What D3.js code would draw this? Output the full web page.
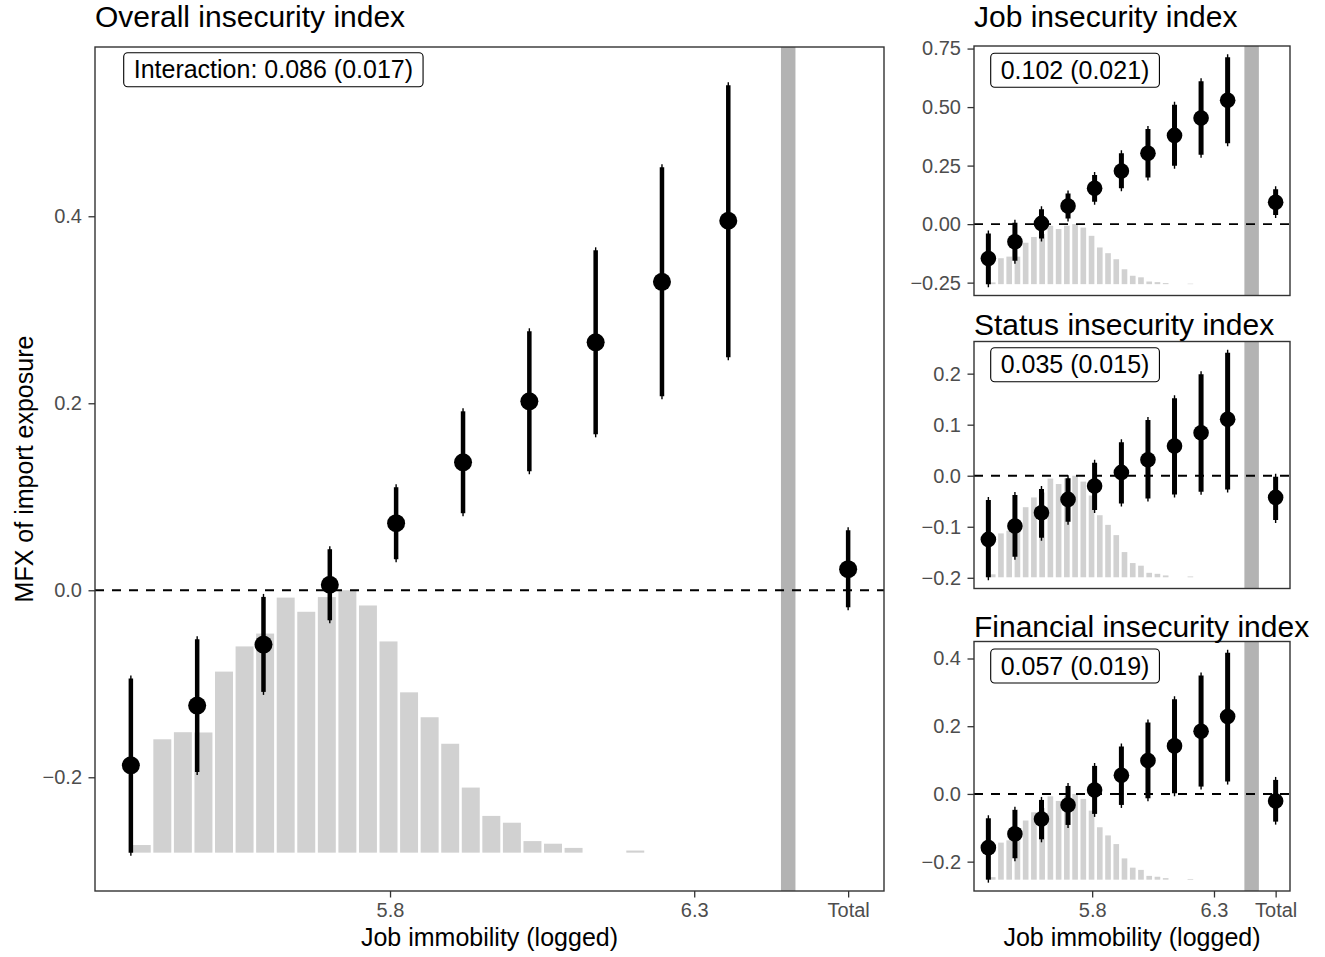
<!DOCTYPE html>
<html>
<head>
<meta charset="utf-8">
<script src="https://cdn.jsdelivr.net/npm/d3@7"></script>
<style>
  body { margin: 0; background: #fff; }
  svg { display: block; font-family: "Liberation Sans", Arial, Helvetica, sans-serif; }
</style>
</head>
<body>
<svg id="chart" width="1325" height="957"></svg>
<script>
// ---- Data -------------------------------------------------------------
// Evaluation points of job immobility (logged)
const evalPoints = [5.374, 5.483, 5.592, 5.701, 5.810, 5.920, 6.029, 6.138, 6.247, 6.356];
const totalPosition = 6.553;       // where the pooled ("Total") estimate sits
const separatorPosition = 6.4545;  // grey divider between conditional and pooled estimates
const xTickValues = [5.8, 6.3, 6.553];
const xTickLabels = ["5.8", "6.3", "Total"];

// Distribution of job immobility (relative frequency, tallest bin = 1)
const histRange = [5.375, 6.220];
const histFreq = [0.029, 0.432, 0.459, 0.458, 0.690, 0.786, 0.835, 0.972, 0.918, 0.974,
                  1.000, 0.942, 0.805, 0.611, 0.516, 0.415, 0.248, 0.140, 0.114, 0.044,
                  0.034, 0.018, 0.000, 0.000, 0.008];

// Overall insecurity index: marginal effects and 95% intervals
const overallEst = [-0.1872, -0.1233, -0.0581, 0.0059, 0.0717, 0.1369, 0.2021, 0.2652, 0.3299, 0.3952];
const overallLo  = [-0.2806, -0.1943, -0.1087, -0.0321, 0.0332, 0.0824, 0.1273, 0.1668, 0.2075, 0.2492];
const overallHi  = [-0.0944, -0.0524, -0.0071, 0.0439, 0.1102, 0.1914, 0.2770, 0.3636, 0.4524, 0.5400];
const overallTotal = { est: 0.0225, lo: -0.0182, hi: 0.0642 };
const overallYTicks = [-0.2, 0.0, 0.2, 0.4];
const overallYLabels = ["\u22120.2", "0.0", "0.2", "0.4"];

// Job insecurity index
const jobEst = [-0.147, -0.0757, 0.003, 0.077, 0.153, 0.227, 0.303, 0.379, 0.453, 0.529];
const jobLo  = [-0.2565, -0.157, -0.061, 0.024, 0.096, 0.153, 0.199, 0.249, 0.296, 0.346];
const jobHi  = [-0.040, 0.006, 0.064, 0.131, 0.210, 0.303, 0.406, 0.510, 0.610, 0.7125];
const jobTotal = { est: 0.093, lo: 0.039, hi: 0.149 };
const jobYTicks = [-0.25, 0.0, 0.25, 0.5, 0.75];
const jobYLabels = ["\u22120.25", "0.00", "0.25", "0.50", "0.75"];

// Status insecurity index
const statusEst = [-0.1248, -0.0987, -0.0725, -0.0464, -0.0203, 0.0065, 0.0314, 0.0582, 0.0843, 0.1105];
const statusLo  = [-0.1990, -0.159, -0.1216, -0.090, -0.0673, -0.0542, -0.0444, -0.0366, -0.0314, -0.0268];
const statusHi  = [-0.0477, -0.0379, -0.026, -0.0052, 0.0255, 0.0654, 0.1092, 0.1516, 0.1987, 0.2410];
const statusTotal = { est: -0.0425, lo: -0.0869, hi: -0.002 };
const statusYTicks = [-0.2, -0.1, 0.0, 0.1, 0.2];
const statusYLabels = ["\u22120.2", "\u22120.1", "0.0", "0.1", "0.2"];

// Financial insecurity index
const finEst = [-0.1586, -0.118, -0.0739, -0.0325, 0.0118, 0.0552, 0.0985, 0.1419, 0.1852, 0.2286];
const finLo  = [-0.2532, -0.190, -0.134, -0.0916, -0.059, -0.0325, -0.0128, 0.002, 0.0217, 0.0365];
const finHi  = [-0.0719, -0.047, -0.0177, 0.0236, 0.0828, 0.140, 0.2108, 0.2798, 0.350, 0.4167];
const finTotal = { est: -0.0207, lo: -0.0818, hi: 0.0414 };
const finYTicks = [-0.2, 0.0, 0.2, 0.4];
const finYLabels = ["\u22120.2", "0.0", "0.2", "0.4"];

// ---- Layout -----------------------------------------------------------
const panels = [
  { title: "Overall insecurity index", label: "Interaction: 0.086 (0.017)",
    est: overallEst, lo: overallLo, hi: overallHi, total: overallTotal,
    yTicks: overallYTicks, yLabels: overallYLabels,
    box: { l: 95, r: 884, t: 47, b: 891 }, titleY: 27.3,
    pointR: 9, barW: 4.5, labelDx: 28.7, labelDy: 5.7, xAxis: true },
  { title: "Job insecurity index", label: "0.102 (0.021)",
    est: jobEst, lo: jobLo, hi: jobHi, total: jobTotal,
    yTicks: jobYTicks, yLabels: jobYLabels,
    box: { l: 974, r: 1290, t: 46, b: 295.5 }, titleY: 27.3,
    pointR: 7.8, barW: 5, labelDx: 16.7, labelDy: 7.3, xAxis: false },
  { title: "Status insecurity index", label: "0.035 (0.015)",
    est: statusEst, lo: statusLo, hi: statusHi, total: statusTotal,
    yTicks: statusYTicks, yLabels: statusYLabels,
    box: { l: 974, r: 1290, t: 341.5, b: 588.5 }, titleY: 335,
    pointR: 7.8, barW: 5, labelDx: 16.7, labelDy: 6.2, xAxis: false },
  { title: "Financial insecurity index", label: "0.057 (0.019)",
    est: finEst, lo: finLo, hi: finHi, total: finTotal,
    yTicks: finYTicks, yLabels: finYLabels,
    box: { l: 974, r: 1290, t: 641.5, b: 891 }, titleY: 636.7,
    pointR: 7.8, barW: 5, labelDx: 16.7, labelDy: 7.5, xAxis: true }
];

const svg = d3.select("#chart");
const xDomainRaw = [d3.min(evalPoints), totalPosition];
const xPad = (xDomainRaw[1] - xDomainRaw[0]) * 0.05;
const binCount = histFreq.length;
const binWidth = (histRange[1] - histRange[0]) / binCount;
const binGap = 2.6; // white gap between neighbouring bins, px

panels.forEach((p, pi) => {
  const { l, r, t, b } = p.box;
  const g = svg.append("g");

  const x = d3.scaleLinear()
    .domain([xDomainRaw[0] - xPad, xDomainRaw[1] + xPad])
    .range([l, r]);

  const allLo = d3.min(p.lo.concat([p.total.lo]));
  const allHi = d3.max(p.hi.concat([p.total.hi]));
  const yPad = (allHi - allLo) * 0.05;
  const y = d3.scaleLinear().domain([allLo - yPad, allHi + yPad]).range([b, t]);

  const clipId = "clip" + pi;
  svg.append("clipPath").attr("id", clipId)
    .append("rect").attr("x", l).attr("y", t).attr("width", r - l).attr("height", b - t);
  const plot = g.append("g").attr("clip-path", `url(#${clipId})`);

  // histogram of the moderator, stretched between the lowest interval bound and zero
  const histBase = d3.min(p.lo);
  const binX0 = i => x(histRange[0] + i * binWidth);
  const binX1 = i => x(histRange[0] + (i + 1) * binWidth);
  plot.append("g").selectAll("rect")
    .data(histFreq.map((f, i) => ({ f, i })).filter(d => d.f > 0))
    .join("rect")
    .attr("x", d => binX0(d.i) + binGap / 2)
    .attr("width", d => binX1(d.i) - binX0(d.i) - binGap)
    .attr("y", d => y(histBase + d.f * (0 - histBase)))
    .attr("height", d => y(histBase) - y(histBase + d.f * (0 - histBase)))
    .attr("fill", "#d1d1d1");

  // divider before the pooled estimate
  plot.append("line")
    .attr("x1", x(separatorPosition)).attr("x2", x(separatorPosition))
    .attr("y1", t).attr("y2", b)
    .attr("stroke", "#b3b3b3").attr("stroke-width", 14.5);

  // zero reference line
  plot.append("line")
    .attr("x1", l).attr("x2", r)
    .attr("y1", y(0)).attr("y2", y(0))
    .attr("stroke", "#000").attr("stroke-width", 1.9)
    .attr("stroke-dasharray", "9,8");

  // estimates with intervals
  const pts = evalPoints.map((xv, i) => ({ x: xv, est: p.est[i], lo: p.lo[i], hi: p.hi[i] }))
    .concat([{ x: totalPosition, est: p.total.est, lo: p.total.lo, hi: p.total.hi }]);

  const pg = plot.append("g");
  pg.selectAll("line.thin").data(pts).join("line").attr("class", "thin")
    .attr("x1", d => x(d.x)).attr("x2", d => x(d.x))
    .attr("y1", d => y(d.lo) + 3).attr("y2", d => y(d.hi) - 3)
    .attr("stroke", "#000").attr("stroke-width", 1.4);
  pg.selectAll("line.thick").data(pts).join("line").attr("class", "thick")
    .attr("x1", d => x(d.x)).attr("x2", d => x(d.x))
    .attr("y1", d => y(d.lo)).attr("y2", d => y(d.hi))
    .attr("stroke", "#000").attr("stroke-width", p.barW);
  pg.selectAll("circle").data(pts).join("circle")
    .attr("cx", d => x(d.x)).attr("cy", d => y(d.est)).attr("r", p.pointR)
    .attr("fill", "#000");

  // coefficient label
  const lab = g.append("g");
  const txt = lab.append("text")
    .attr("x", l + p.labelDx + 10)
    .attr("y", t + p.labelDy + 25.6)
    .attr("font-size", 25).attr("fill", "#000")
    .text(p.label);
  const tw = txt.node().getComputedTextLength();
  lab.insert("rect", "text")
    .attr("x", l + p.labelDx).attr("y", t + p.labelDy)
    .attr("width", tw + 20).attr("height", 34)
    .attr("rx", 4).attr("ry", 4)
    .attr("fill", "#fff").attr("stroke", "#000").attr("stroke-width", 1.1);

  // panel border
  g.append("rect")
    .attr("x", l).attr("y", t).attr("width", r - l).attr("height", b - t)
    .attr("fill", "none").attr("stroke", "#333333").attr("stroke-width", 1.4);

  // y axis
  const yAxis = g.append("g").attr("transform", `translate(${l},0)`)
    .call(d3.axisLeft(y).tickValues(p.yTicks)
      .tickFormat((d, i) => p.yLabels[i])
      .tickSize(6.5).tickPadding(6.5).tickSizeOuter(0));
  yAxis.select(".domain").remove();
  yAxis.selectAll(".tick line").attr("stroke", "#333333").attr("stroke-width", 1.3);
  yAxis.selectAll(".tick text").attr("fill", "#4d4d4d").attr("font-size", 20)
    .attr("font-family", "Liberation Sans, Arial, sans-serif");

  // x axis (only the bottom row)
  if (p.xAxis) {
    const xAxis = g.append("g").attr("transform", `translate(0,${b})`)
      .call(d3.axisBottom(x).tickValues(xTickValues)
        .tickFormat((d, i) => xTickLabels[i])
        .tickSize(6.5).tickPadding(5).tickSizeOuter(0));
    xAxis.select(".domain").remove();
    xAxis.selectAll(".tick line").attr("stroke", "#333333").attr("stroke-width", 1.3);
    xAxis.selectAll(".tick text").attr("fill", "#4d4d4d").attr("font-size", 20)
      .attr("font-family", "Liberation Sans, Arial, sans-serif");

    g.append("text")
      .attr("x", (l + r) / 2).attr("y", 946)
      .attr("text-anchor", "middle").attr("font-size", 25).attr("fill", "#000")
      .text("Job immobility (logged)");
  }

  // panel title
  g.append("text")
    .attr("x", l).attr("y", p.titleY)
    .attr("font-size", 30).attr("fill", "#000")
    .text(p.title);
});

// shared y-axis title
svg.append("text")
  .attr("transform", "translate(33,469) rotate(-90)")
  .attr("text-anchor", "middle").attr("font-size", 25).attr("fill", "#000")
  .text("MFX of import exposure");
</script>
</body>
</html>
